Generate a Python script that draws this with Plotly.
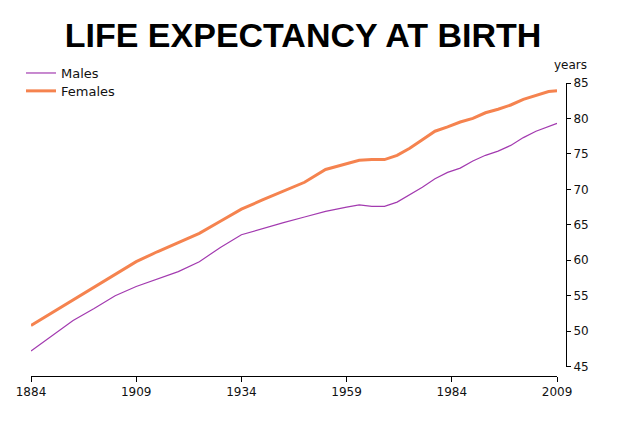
import plotly.graph_objects as go

years = [1884, 1889, 1894, 1899, 1904, 1909, 1914, 1919, 1924, 1929, 1934, 1939, 1944,
         1949, 1954, 1959, 1962, 1965, 1968, 1971, 1974, 1977, 1980, 1983, 1986, 1989,
         1992, 1995, 1998, 2001, 2004, 2007, 2009]
males = [47.2, 49.4, 51.5, 53.2, 55.0, 56.3, 57.4, 58.4, 59.8, 61.8, 63.6, 64.5, 65.3,
         66.1, 66.9, 67.5, 67.8, 67.6, 67.6, 68.2, 69.2, 70.3, 71.5, 72.4, 73.0, 74.0,
         74.8, 75.4, 76.2, 77.3, 78.2, 78.9, 79.3]
females = [50.8, 52.6, 54.4, 56.2, 58.0, 59.8, 61.2, 62.5, 63.8, 65.5, 67.2, 68.5, 69.7,
           71.0, 72.8, 73.6, 74.1, 74.2, 74.2, 74.8, 75.8, 77.0, 78.2, 78.8, 79.5, 80.0,
           80.8, 81.3, 81.9, 82.7, 83.3, 83.8, 83.9]
x_ticks = [1884, 1909, 1934, 1959, 1984, 2009]
y_ticks = [45, 50, 55, 60, 65, 70, 75, 80, 85]

fig = go.Figure()
fig.add_trace(go.Scatter(x=years, y=males, mode="lines", name="Males", legend="legend",
                         line=dict(color="#a33bb0", width=1.2)))
fig.add_trace(go.Scatter(x=years, y=females, mode="lines", name="Females", legend="legend2",
                         line=dict(color="#f5834f", width=3)))

tickfont = dict(family="DejaVu Sans", size=12, color="#111111")
legfont = dict(family="DejaVu Sans", size=13, color="#111111")
fig.update_layout(
    width=616, height=418,
    margin=dict(l=23, r=58, t=75, b=50, autoexpand=False),
    paper_bgcolor="white", plot_bgcolor="white",
    title=dict(text="<b>LIFE EXPECTANCY AT BIRTH</b>", x=0.479, xanchor="center",
               y=0.935, yanchor="middle",
               font=dict(family="Liberation Sans", size=34, color="black")),
    legend=dict(x=-0.0187, y=1.034, xanchor="left", yanchor="middle",
                font=legfont, bgcolor="rgba(0,0,0,0)", itemwidth=30),
    legend2=dict(x=-0.0187, y=0.973, xanchor="left", yanchor="middle",
                 font=legfont, bgcolor="rgba(0,0,0,0)", itemwidth=30),
    xaxis=dict(range=[1884, 2009], domain=[0, 0.9832], tickvals=x_ticks,
               anchor="free", position=0, automargin=False,
               showline=True, linecolor="black", linewidth=1,
               ticks="outside", ticklen=5, tickcolor="black",
               showgrid=False, zeroline=False, tickfont=tickfont),
    yaxis=dict(range=[45, 85], domain=[0.032, 1], tickvals=y_ticks,
               side="right", anchor="free", position=1, automargin=False,
               showline=True, linecolor="black", linewidth=1,
               ticks="outside", ticklen=4, tickcolor="black",
               showgrid=False, zeroline=False, tickfont=tickfont),
    showlegend=True,
)
fig.add_annotation(text="years", xref="paper", yref="paper", x=1.0075, y=1.061,
                   xanchor="center", yanchor="middle", showarrow=False,
                   font=dict(family="DejaVu Sans", size=12, color="#111111"))
fig.write_html("out.html")
